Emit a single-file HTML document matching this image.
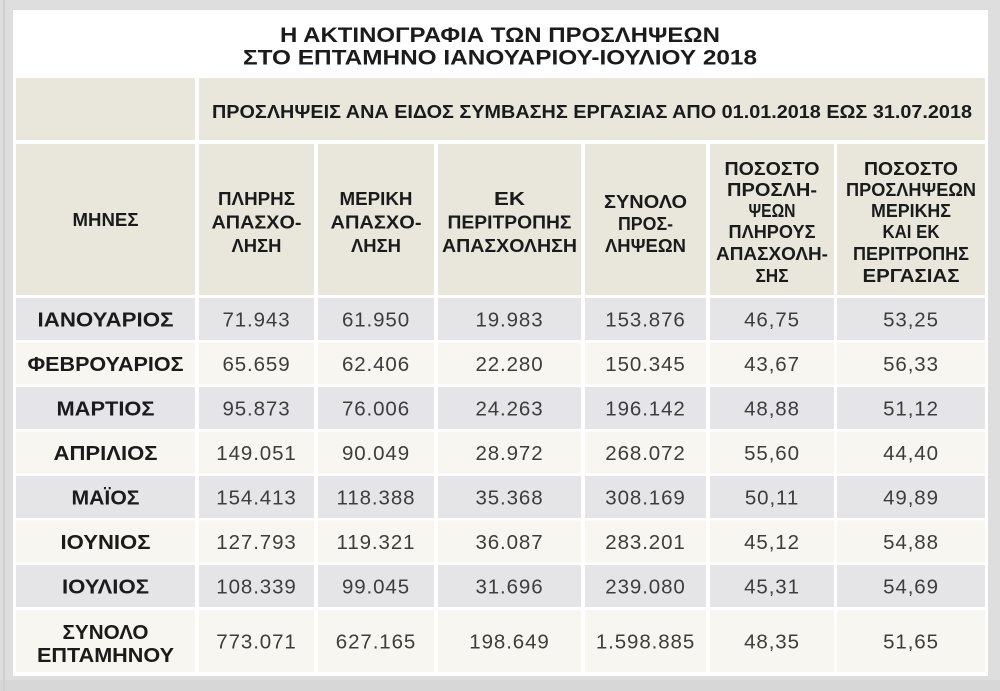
<!DOCTYPE html>
<html><head><meta charset="utf-8"><style>
html,body{margin:0;padding:0;background:#dedede;}
svg{display:block;}
.h{font-family:"Liberation Sans","DejaVu Sans",sans-serif;font-weight:bold;fill:#1b1b1b;}
.n{font-family:"Liberation Sans","DejaVu Sans",sans-serif;font-size:20.5px;fill:#3d3d3d;letter-spacing:0.9px;}
</style></head><body>
<svg width="1000" height="691" viewBox="0 0 1000 691" xmlns="http://www.w3.org/2000/svg">
<rect x="0" y="0" width="1000" height="691" fill="#dedede"/>
<rect x="0" y="680" width="1000" height="11" fill="#d7d7d7"/>
<rect x="3" y="0" width="2" height="691" fill="#cfcfcf"/>
<rect x="13" y="10" width="975" height="666" fill="#ffffff"/>

<!-- title -->
<text class="h" x="500" y="42" font-size="21.5" text-anchor="middle" textLength="440" lengthAdjust="spacingAndGlyphs">Η ΑΚΤΙΝΟΓΡΑΦΙΑ ΤΩΝ ΠΡΟΣΛΗΨΕΩΝ</text>
<text class="h" x="500" y="64.5" font-size="21.5" text-anchor="middle" textLength="514" lengthAdjust="spacingAndGlyphs">ΣΤΟ ΕΠΤΑΜΗΝΟ ΙΑΝΟΥΑΡΙΟΥ-ΙΟΥΛΙΟΥ 2018</text>

<!-- header row 1 -->
<rect x="16" y="78" width="179" height="62" fill="#e9e7dc"/>
<rect x="199" y="78" width="786" height="62" fill="#e9e7dc"/>
<text class="h" x="592" y="118" font-size="18" text-anchor="middle" textLength="760" lengthAdjust="spacingAndGlyphs">ΠΡΟΣΛΗΨΕΙΣ ΑΝΑ ΕΙΔΟΣ ΣΥΜΒΑΣΗΣ ΕΡΓΑΣΙΑΣ ΑΠΟ 01.01.2018 ΕΩΣ 31.07.2018</text>

<!-- header row 2 -->
<g fill="#e9e7dc">
<rect x="16" y="144" width="179" height="151"/>
<rect x="199" y="144" width="115" height="151"/>
<rect x="318" y="144" width="116" height="151"/>
<rect x="438" y="144" width="143" height="151"/>
<rect x="585" y="144" width="121" height="151"/>
<rect x="710" y="144" width="124" height="151"/>
<rect x="837" y="144" width="148" height="151"/>
</g>
<g class="h" font-size="18" text-anchor="middle">
<text x="105.5" y="226" textLength="66" lengthAdjust="spacingAndGlyphs">ΜΗΝΕΣ</text>
<text x="256.5" y="205" textLength="77" lengthAdjust="spacingAndGlyphs">ΠΛΗΡΗΣ</text>
<text x="256.5" y="228.5" textLength="90" lengthAdjust="spacingAndGlyphs">ΑΠΑΣΧΟ-</text>
<text x="256.5" y="252" textLength="50" lengthAdjust="spacingAndGlyphs">ΛΗΣΗ</text>
<text x="376" y="205" textLength="73" lengthAdjust="spacingAndGlyphs">ΜΕΡΙΚΗ</text>
<text x="376" y="228.5" textLength="91" lengthAdjust="spacingAndGlyphs">ΑΠΑΣΧΟ-</text>
<text x="376" y="252" textLength="50" lengthAdjust="spacingAndGlyphs">ΛΗΣΗ</text>
<text x="509.5" y="205" textLength="31" lengthAdjust="spacingAndGlyphs">ΕΚ</text>
<text x="509.5" y="228.5" textLength="124" lengthAdjust="spacingAndGlyphs">ΠΕΡΙΤΡΟΠΗΣ</text>
<text x="509.5" y="252" textLength="135" lengthAdjust="spacingAndGlyphs">ΑΠΑΣΧΟΛΗΣΗ</text>
<text x="645.5" y="208" textLength="83" lengthAdjust="spacingAndGlyphs">ΣΥΝΟΛΟ</text>
<text x="645.5" y="230" textLength="55" lengthAdjust="spacingAndGlyphs">ΠΡΟΣ-</text>
<text x="645.5" y="252" textLength="81" lengthAdjust="spacingAndGlyphs">ΛΗΨΕΩΝ</text>
<text x="772" y="175" textLength="95" lengthAdjust="spacingAndGlyphs">ΠΟΣΟΣΤΟ</text>
<text x="772" y="196" textLength="90" lengthAdjust="spacingAndGlyphs">ΠΡΟΣΛΗ-</text>
<text x="772" y="217" textLength="47" lengthAdjust="spacingAndGlyphs">ΨΕΩΝ</text>
<text x="772" y="238" textLength="87" lengthAdjust="spacingAndGlyphs">ΠΛΗΡΟΥΣ</text>
<text x="772" y="260" textLength="112" lengthAdjust="spacingAndGlyphs">ΑΠΑΣΧΟΛΗ-</text>
<text x="772" y="282" textLength="33" lengthAdjust="spacingAndGlyphs">ΣΗΣ</text>
<text x="911" y="175" textLength="94" lengthAdjust="spacingAndGlyphs">ΠΟΣΟΣΤΟ</text>
<text x="911" y="196" textLength="130" lengthAdjust="spacingAndGlyphs">ΠΡΟΣΛΗΨΕΩΝ</text>
<text x="911" y="217" textLength="80" lengthAdjust="spacingAndGlyphs">ΜΕΡΙΚΗΣ</text>
<text x="911" y="238" textLength="57" lengthAdjust="spacingAndGlyphs">ΚΑΙ ΕΚ</text>
<text x="911" y="260" textLength="116" lengthAdjust="spacingAndGlyphs">ΠΕΡΙΤΡΟΠΗΣ</text>
<text x="911" y="282" textLength="97" lengthAdjust="spacingAndGlyphs">ΕΡΓΑΣΙΑΣ</text>
</g>

<!-- data rows backgrounds -->
<g>
<g fill="#e5e5e7">
<rect x="16" y="298" width="179" height="42"/><rect x="199" y="298" width="115" height="42"/><rect x="318" y="298" width="116" height="42"/><rect x="438" y="298" width="143" height="42"/><rect x="585" y="298" width="121" height="42"/><rect x="710" y="298" width="124" height="42"/><rect x="837" y="298" width="148" height="42"/>
<rect x="16" y="387" width="179" height="42"/><rect x="199" y="387" width="115" height="42"/><rect x="318" y="387" width="116" height="42"/><rect x="438" y="387" width="143" height="42"/><rect x="585" y="387" width="121" height="42"/><rect x="710" y="387" width="124" height="42"/><rect x="837" y="387" width="148" height="42"/>
<rect x="16" y="476" width="179" height="42"/><rect x="199" y="476" width="115" height="42"/><rect x="318" y="476" width="116" height="42"/><rect x="438" y="476" width="143" height="42"/><rect x="585" y="476" width="121" height="42"/><rect x="710" y="476" width="124" height="42"/><rect x="837" y="476" width="148" height="42"/>
<rect x="16" y="565" width="179" height="42"/><rect x="199" y="565" width="115" height="42"/><rect x="318" y="565" width="116" height="42"/><rect x="438" y="565" width="143" height="42"/><rect x="585" y="565" width="121" height="42"/><rect x="710" y="565" width="124" height="42"/><rect x="837" y="565" width="148" height="42"/>
</g>
<g fill="#f7f6f0">
<rect x="16" y="342.5" width="179" height="42"/><rect x="199" y="342.5" width="115" height="42"/><rect x="318" y="342.5" width="116" height="42"/><rect x="438" y="342.5" width="143" height="42"/><rect x="585" y="342.5" width="121" height="42"/><rect x="710" y="342.5" width="124" height="42"/><rect x="837" y="342.5" width="148" height="42"/>
<rect x="16" y="431.5" width="179" height="42"/><rect x="199" y="431.5" width="115" height="42"/><rect x="318" y="431.5" width="116" height="42"/><rect x="438" y="431.5" width="143" height="42"/><rect x="585" y="431.5" width="121" height="42"/><rect x="710" y="431.5" width="124" height="42"/><rect x="837" y="431.5" width="148" height="42"/>
<rect x="16" y="520.5" width="179" height="42"/><rect x="199" y="520.5" width="115" height="42"/><rect x="318" y="520.5" width="116" height="42"/><rect x="438" y="520.5" width="143" height="42"/><rect x="585" y="520.5" width="121" height="42"/><rect x="710" y="520.5" width="124" height="42"/><rect x="837" y="520.5" width="148" height="42"/>
<rect x="16" y="610" width="179" height="62"/><rect x="199" y="610" width="115" height="62"/><rect x="318" y="610" width="116" height="62"/><rect x="438" y="610" width="143" height="62"/><rect x="585" y="610" width="121" height="62"/><rect x="710" y="610" width="124" height="62"/><rect x="837" y="610" width="148" height="62"/>
</g>
</g>

<!-- month labels -->
<g class="h" font-size="20" text-anchor="middle">
<text x="105.5" y="326.5" textLength="136" lengthAdjust="spacingAndGlyphs">ΙΑΝΟΥΑΡΙΟΣ</text>
<text x="105.5" y="371" textLength="156" lengthAdjust="spacingAndGlyphs">ΦΕΒΡΟΥΑΡΙΟΣ</text>
<text x="105.5" y="415.5" textLength="98" lengthAdjust="spacingAndGlyphs">ΜΑΡΤΙΟΣ</text>
<text x="105.5" y="460" textLength="104" lengthAdjust="spacingAndGlyphs">ΑΠΡΙΛΙΟΣ</text>
<text x="105.5" y="504.5" textLength="68" lengthAdjust="spacingAndGlyphs">ΜΑΪΟΣ</text>
<text x="105.5" y="549" textLength="90" lengthAdjust="spacingAndGlyphs">ΙΟΥΝΙΟΣ</text>
<text x="105.5" y="593.5" textLength="87" lengthAdjust="spacingAndGlyphs">ΙΟΥΛΙΟΣ</text>
<text x="105.5" y="639" textLength="86" lengthAdjust="spacingAndGlyphs">ΣΥΝΟΛΟ</text>
<text x="105.5" y="662" textLength="137" lengthAdjust="spacingAndGlyphs">ΕΠΤΑΜΗΝΟΥ</text>
</g>

<!-- numbers -->
<g class="n" text-anchor="middle">
<text x="256.5" y="326.5">71.943</text><text x="376" y="326.5">61.950</text><text x="509.5" y="326.5">19.983</text><text x="645.5" y="326.5">153.876</text><text x="772" y="326.5">46,75</text><text x="911" y="326.5">53,25</text>
<text x="256.5" y="371">65.659</text><text x="376" y="371">62.406</text><text x="509.5" y="371">22.280</text><text x="645.5" y="371">150.345</text><text x="772" y="371">43,67</text><text x="911" y="371">56,33</text>
<text x="256.5" y="415.5">95.873</text><text x="376" y="415.5">76.006</text><text x="509.5" y="415.5">24.263</text><text x="645.5" y="415.5">196.142</text><text x="772" y="415.5">48,88</text><text x="911" y="415.5">51,12</text>
<text x="256.5" y="460">149.051</text><text x="376" y="460">90.049</text><text x="509.5" y="460">28.972</text><text x="645.5" y="460">268.072</text><text x="772" y="460">55,60</text><text x="911" y="460">44,40</text>
<text x="256.5" y="504.5">154.413</text><text x="376" y="504.5">118.388</text><text x="509.5" y="504.5">35.368</text><text x="645.5" y="504.5">308.169</text><text x="772" y="504.5">50,11</text><text x="911" y="504.5">49,89</text>
<text x="256.5" y="549">127.793</text><text x="376" y="549">119.321</text><text x="509.5" y="549">36.087</text><text x="645.5" y="549">283.201</text><text x="772" y="549">45,12</text><text x="911" y="549">54,88</text>
<text x="256.5" y="593.5">108.339</text><text x="376" y="593.5">99.045</text><text x="509.5" y="593.5">31.696</text><text x="645.5" y="593.5">239.080</text><text x="772" y="593.5">45,31</text><text x="911" y="593.5">54,69</text>
<text x="256.5" y="648.5">773.071</text><text x="376" y="648.5">627.165</text><text x="509.5" y="648.5">198.649</text><text x="645.5" y="648.5">1.598.885</text><text x="772" y="648.5">48,35</text><text x="911" y="648.5">51,65</text>
</g>
</svg>
</body></html>
